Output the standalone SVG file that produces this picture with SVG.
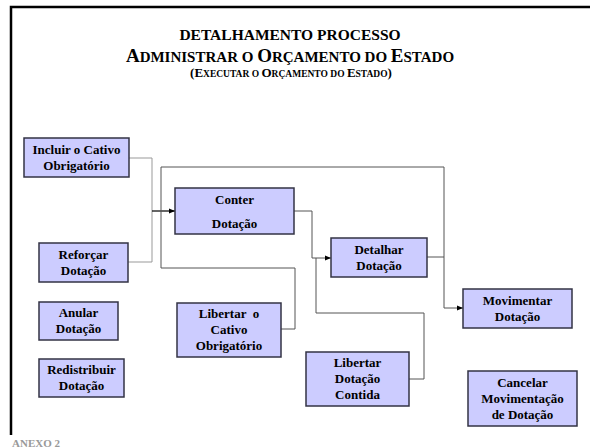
<svg xmlns="http://www.w3.org/2000/svg" width="590" height="447" viewBox="0 0 590 447">
<defs>
<style>
.box{fill:#ccccff;stroke:#333344;stroke-width:1.5}
.t{font-family:"Liberation Serif","Times New Roman",serif;font-weight:bold;font-size:13px;fill:#000;text-anchor:middle}
.ln{fill:none;stroke:#555;stroke-width:1}
.lg{fill:none;stroke:#999;stroke-width:1}
.hd{font-family:"Liberation Serif","Times New Roman",serif;font-weight:bold;fill:#000;text-anchor:middle}
</style>
<marker id="ah" viewBox="0 0 10 10" refX="10" refY="5" markerWidth="6" markerHeight="6" orient="auto" markerUnits="userSpaceOnUse">
<path d="M0,1 L10,5 L0,9 z" fill="#000"/>
</marker>
</defs>
<rect width="590" height="447" fill="#fff"/>
<g id="frame">
<path d="M11,435 L11,7 L590,7" fill="none" stroke="#000" stroke-width="2.5"/>
</g>
<g id="title">
<text class="hd" x="290" y="40" font-size="15.5">DETALHAMENTO PROCESSO</text>
<text class="hd" x="290" y="62" font-size="15"><tspan font-size="19">A</tspan>DMINISTRAR O <tspan font-size="19">O</tspan>RÇAMENTO DO <tspan font-size="19">E</tspan>STADO</text>
<text class="hd" x="291" y="77" font-size="9.5"><tspan font-size="13">(E</tspan>XECUTAR O <tspan font-size="13">O</tspan>RÇAMENTO DO <tspan font-size="13">E</tspan>STADO<tspan font-size="13">)</tspan></text>
</g>
<g id="connectors">
<path class="lg" d="M129,158 L152,158 L152,262 L128,262"/>
<path d="M152,211 L175,211" stroke="#000" stroke-width="1.2" fill="none" marker-end="url(#ah)"/>
<path class="ln" d="M281,329 L295,329 L295,268 L161,268 L161,167 L444,167 L444,308 L463,308" marker-end="url(#ah)"/>
<path class="ln" d="M427,257 L444,257"/>
<path class="ln" d="M294,211 L312,211 L312,258 L331,258" marker-end="url(#ah)"/>
<path class="ln" d="M409,379 L424,379 L424,313 L316,313 L316,258"/>
</g>
<g id="n-incluir"><rect class="box" x="24" y="138" width="105" height="39"/><text class="t" x="76.5" y="154">Incluir o Cativo</text><text class="t" x="76.5" y="170">Obrigatório</text></g>
<g id="n-reforcar"><rect class="box" x="39" y="243" width="89" height="39"/><text class="t" x="83.5" y="259">Reforçar</text><text class="t" x="83.5" y="275">Dotação</text></g>
<g id="n-conter"><rect class="box" x="175" y="188" width="119" height="46"/><text class="t" x="234.5" y="204">Conter</text><text class="t" x="234.5" y="228">Dotação</text></g>
<g id="n-detalhar"><rect class="box" x="331" y="238" width="96" height="39"/><text class="t" x="379" y="254">Detalhar</text><text class="t" x="379" y="270">Dotação</text></g>
<g id="n-anular"><rect class="box" x="39" y="302" width="79" height="38"/><text class="t" x="78.5" y="317">Anular</text><text class="t" x="78.5" y="333">Dotação</text></g>
<g id="n-redistribuir"><rect class="box" x="39" y="359" width="85" height="38"/><text class="t" x="81.5" y="374">Redistribuir</text><text class="t" x="81.5" y="390">Dotação</text></g>
<g id="n-libertar-cativo"><rect class="box" x="177" y="303" width="104" height="54"/><text class="t" x="229" y="318" xml:space="preserve">Libertar  o</text><text class="t" x="229" y="334">Cativo</text><text class="t" x="229" y="350">Obrigatório</text></g>
<g id="n-libertar-contida"><rect class="box" x="306" y="352" width="103" height="54"/><text class="t" x="357.5" y="367">Libertar</text><text class="t" x="357.5" y="383">Dotação</text><text class="t" x="357.5" y="399">Contida</text></g>
<g id="n-movimentar"><rect class="box" x="463" y="289" width="109" height="39"/><text class="t" x="517.5" y="305">Movimentar</text><text class="t" x="517.5" y="321">Dotação</text></g>
<g id="n-cancelar"><rect class="box" x="468" y="371" width="109" height="55"/><text class="t" x="522.5" y="387">Cancelar</text><text class="t" x="522.5" y="403">Movimentação</text><text class="t" x="522.5" y="419">de Dotação</text></g>
<g id="footer"><text x="12" y="446.5" font-family="Liberation Serif,serif" font-weight="bold" font-size="11" fill="#999">ANEXO 2</text></g>
</svg>
